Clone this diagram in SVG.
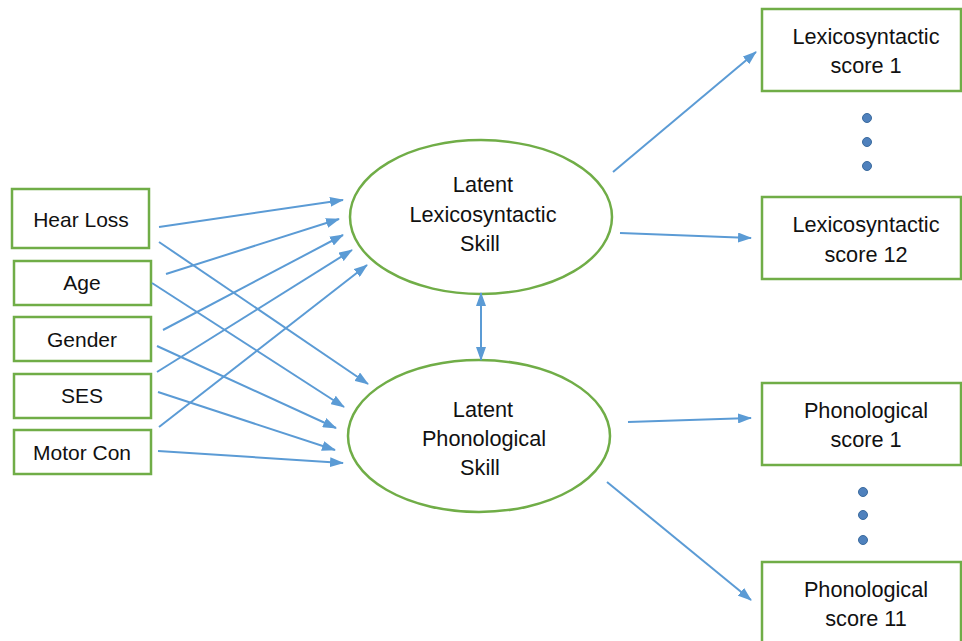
<svg xmlns="http://www.w3.org/2000/svg" width="962" height="641" viewBox="0 0 962 641">
<style>
.box{fill:#fff;stroke:#70AD47;stroke-width:2.5}
.ell{fill:#fff;stroke:#70AD47;stroke-width:2.5}
.t{font-family:"Liberation Sans",Arial,sans-serif;font-size:21.7px;fill:#111;text-anchor:middle}
.s{font-size:21px}
.c line{stroke:#5B9BD5;stroke-width:2;marker-end:url(#ah)}
.dot{fill:#4F81BD;stroke:#3A6A9E;stroke-width:1}
</style>
<defs>
<marker id="ah" markerWidth="14" markerHeight="10" refX="13" refY="5" orient="auto" markerUnits="userSpaceOnUse">
<path d="M0,0 L14,5 L0,10 Z" fill="#5B9BD5"/>
</marker>
<marker id="as" markerWidth="14" markerHeight="10" refX="1" refY="5" orient="auto" markerUnits="userSpaceOnUse">
<path d="M14,0 L0,5 L14,10 Z" fill="#5B9BD5"/>
</marker>
</defs>
<rect width="962" height="641" fill="#fff"/>
<g id="n-hearloss"><rect class="box" x="12" y="189" width="137" height="59"/><text class="t s" x="81" y="227">Hear Loss</text></g>
<g id="n-age"><rect class="box" x="14" y="261" width="137" height="44"/><text class="t s" x="82" y="290">Age</text></g>
<g id="n-gender"><rect class="box" x="14" y="317" width="137" height="44"/><text class="t s" x="82" y="347">Gender</text></g>
<g id="n-ses"><rect class="box" x="14" y="374" width="137" height="44"/><text class="t s" x="82" y="403">SES</text></g>
<g id="n-motor"><rect class="box" x="14" y="430" width="137" height="44"/><text class="t s" x="82" y="460">Motor Con</text></g>
<g id="n-lex"><ellipse class="ell" cx="481" cy="217" rx="131" ry="77"/><text class="t" x="483" y="192">Latent</text><text class="t" x="483" y="222">Lexicosyntactic</text><text class="t" x="480" y="251">Skill</text></g>
<g id="n-phon"><ellipse class="ell" cx="479" cy="436" rx="131" ry="76"/><text class="t" x="483" y="417">Latent</text><text class="t" x="484" y="446">Phonological</text><text class="t" x="480" y="475">Skill</text></g>
<g id="n-lex1"><rect class="box" x="762" y="9" width="199" height="82"/><text class="t" x="866" y="44">Lexicosyntactic</text><text class="t" x="866" y="73">score 1</text></g>
<g id="n-lex12"><rect class="box" x="762" y="197" width="199" height="82"/><text class="t" x="866" y="232">Lexicosyntactic</text><text class="t" x="866" y="262">score 12</text></g>
<g id="n-phon1"><rect class="box" x="762" y="383" width="199" height="82"/><text class="t" x="866" y="418">Phonological</text><text class="t" x="866" y="447">score 1</text></g>
<g id="n-phon11"><rect class="box" x="762" y="562" width="199" height="90"/><text class="t" x="866" y="597">Phonological</text><text class="t" x="866" y="626">score 11</text></g>
<g id="dots">
<circle class="dot" cx="867" cy="118" r="4.5"/><circle class="dot" cx="867" cy="142" r="4.5"/><circle class="dot" cx="867" cy="166" r="4.5"/>
<circle class="dot" cx="863" cy="492" r="4.5"/><circle class="dot" cx="863" cy="515" r="4.5"/><circle class="dot" cx="863" cy="540" r="4.5"/>
</g>
<g id="connectors" class="c">
<line x1="159" y1="227" x2="343" y2="200"/>
<line x1="159" y1="242" x2="368" y2="384"/>
<line x1="166" y1="274" x2="339" y2="219"/>
<line x1="152" y1="283" x2="344" y2="407"/>
<line x1="163" y1="330" x2="343" y2="235"/>
<line x1="157" y1="346" x2="336" y2="428"/>
<line x1="157" y1="372" x2="352" y2="250"/>
<line x1="158" y1="392" x2="335" y2="450"/>
<line x1="159" y1="427" x2="367" y2="265"/>
<line x1="158" y1="451" x2="343" y2="463"/>
<line x1="481" y1="293" x2="481" y2="360" style="marker-start:url(#as)"/>
<line x1="613" y1="172" x2="756" y2="52"/>
<line x1="620" y1="233" x2="751" y2="238"/>
<line x1="628" y1="422" x2="751" y2="418"/>
<line x1="607" y1="482" x2="751" y2="600"/>
</g>
</svg>
